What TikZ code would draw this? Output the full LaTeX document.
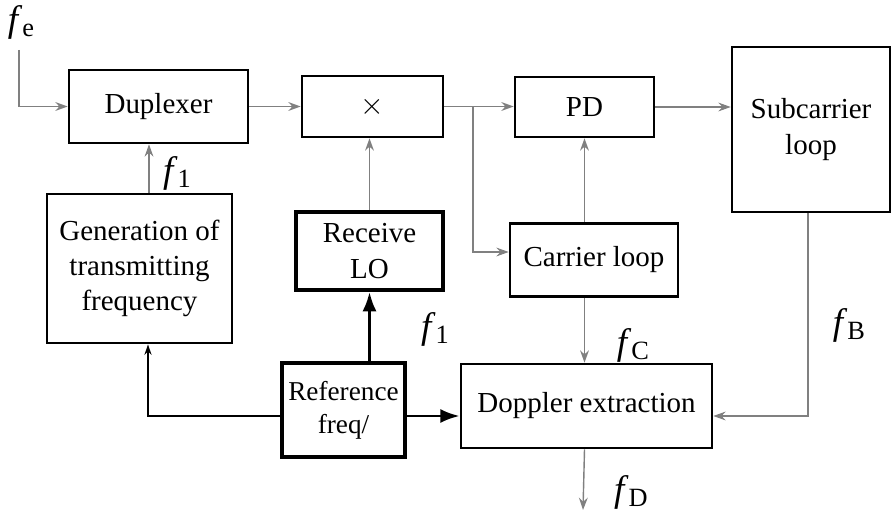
\documentclass[tikz,border=0pt]{standalone}
\usepackage{amsmath}
\usepackage{fontspec}
\setmainfont{Liberation Serif}
\usetikzlibrary{arrows.meta, positioning}

\newcommand{\fsig}[1]{\textit{f}\raisebox{-0.3ex}{\fontsize{15}{15}\selectfont #1}}

\begin{document}
\begin{tikzpicture}[x=0.02cm, y=-0.02cm, font=\fontsize{16.5}{20}\selectfont]
		\tikzset{block/.style={draw, line width=1.5pt, inner sep=0pt, align=center, minimum width=#1},
			heavy block/.style={block=#1, line width=2.2pt},
			lbl/.style={font=\fontsize{21}{24}\selectfont, inner sep=0pt},
			sig/.style={draw=black!50, line width=0.8pt, -{Stealth[length=7pt,width=5pt]}},
			refline/.style={line width=1.7pt, -{Latex[length=11pt,width=8pt]}},
			feedline/.style={line width=1.1pt, -{Stealth[length=6pt,width=4pt]}}}
		\useasboundingbox (0,0) rectangle (891,513);
		
		\node [block=3.58cm, minimum height=1.46cm] (dup) at (158.5,106.5) {Duplexer};
		\node [block=2.82cm, minimum height=1.22cm] (mix) at (372.5,106.5) {$\times$};
		\node [block=2.78cm, minimum height=1.2cm] (pd) at (584.5,107) {PD};
		\node [block=3.16cm, minimum height=3.3cm] (sub) at (811,129.5) {Subcarrier\\loop};
		\node [block=3.36cm, minimum height=1.46cm] (car) at (594,260) {Carrier loop};
		\node [heavy block=2.94cm, minimum height=1.56cm] (rlo) at (369.5,251) {Receive\\LO};
		\node [block=3.7cm, minimum height=2.98cm] (gen) at (139.5,268.5) {Generation of\\transmitting\\frequency};
		\node [heavy block=2.46cm, minimum height=1.88cm, font=\fontsize{15.5}{19}\selectfont] (ref) at (343.5,410) {Reference\\freq/};
		\node [block=5.02cm, minimum height=1.68cm] (dop) at (586.5,406) {Doppler extraction};
		
		\node [lbl] (fe) at (21,22) {\fsig{e}};
		\node [lbl] (f1a) at (177,173) {\fsig{1}};
		\node [lbl] (f1b) at (435,329) {\fsig{1}};
		\node [lbl] (fc) at (633,345) {\fsig{C}};
		\node [lbl] (fb) at (849,325) {\fsig{B}};
		\node [lbl] (fd) at (631,492) {\fsig{D}};
		
		\coordinate (fein) at (19,50);
		\coordinate (br) at (473,106.5);
		\coordinate (fdout) at (583,510);
		
		\draw[sig] (fein) |- (dup.west);
		\draw[sig] (dup) -- (mix);
		\draw[sig] (mix.east) -- (mix.east -| pd.west);
		\draw[sig] (br) |- ([yshift=0.16cm]car.west);
		\draw[sig] (pd) -- (pd -| sub.west);
		\draw[sig] (rlo) -- (rlo.north |- mix.south);
		\draw[sig] (pd.south |- car.north) -- (pd.south);
		\draw[sig] (car.south -| pd.south) -- (dop.north -| pd.south);
		\draw[sig] (dop.south -| pd.south) -- (fdout);
		\draw[sig] ([xshift=-0.06cm]sub.south) |- ([yshift=-0.2cm]dop.east);
		\draw[sig] ([xshift=0.19cm]gen.north) -- ([xshift=0.19cm]gen.north |- dup.south);
		\draw[refline] (rlo.south |- ref.north) -- (rlo.south);
		\draw[refline] ([yshift=-0.12cm]ref.east) -- ([yshift=-0.12cm]ref.east -| dop.west);
		\draw[feedline] ([yshift=-0.12cm]ref.west) -| ([xshift=0.17cm]gen.south);
\end{tikzpicture}
\end{document}
